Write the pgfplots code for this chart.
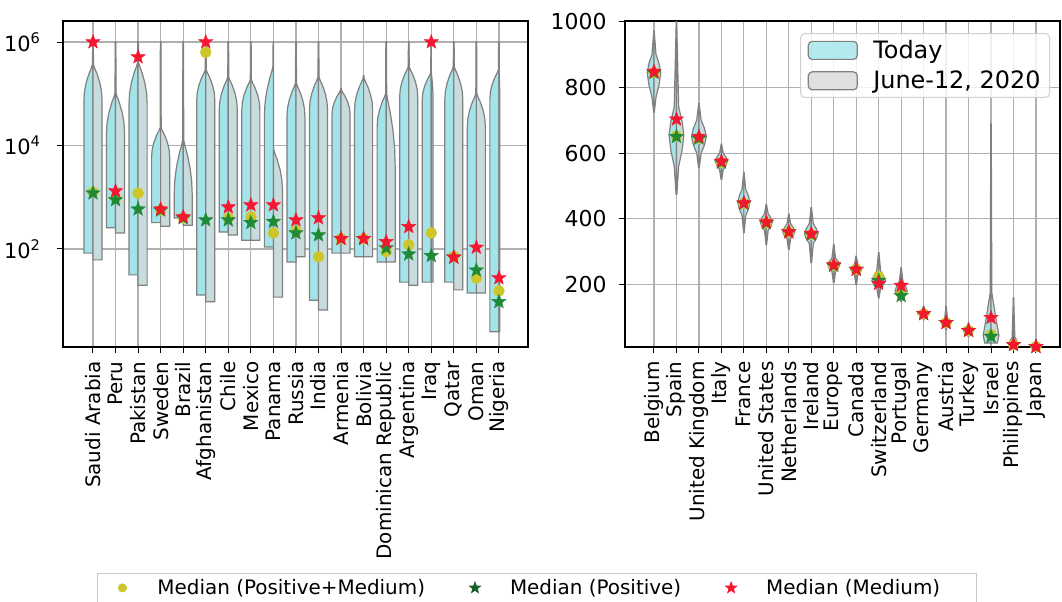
\documentclass[border=0pt]{standalone}
\usepackage{fontspec}
\setmainfont{DejaVu Sans}
\usepackage{pgfplots}
\pgfplotsset{compat=1.18}
\usetikzlibrary{plotmarks}

\definecolor{today}{HTML}{A2E4EA}
\definecolor{june}{HTML}{C9DCDD}
\definecolor{vedge}{HTML}{808080}
\definecolor{gridc}{HTML}{B0B0B0}
\definecolor{cred}{HTML}{F5162F}
\definecolor{cgreen}{HTML}{1F8A35}
\definecolor{cyel}{HTML}{CDC62A}

\pgfdeclareplotmark{fstar}{%
 \pgfpathmoveto{\pgfpointpolar{90}{\pgfplotmarksize}}%
 \pgfpathlineto{\pgfpointpolar{126}{0.42\pgfplotmarksize}}%
 \pgfpathlineto{\pgfpointpolar{162}{\pgfplotmarksize}}%
 \pgfpathlineto{\pgfpointpolar{198}{0.42\pgfplotmarksize}}%
 \pgfpathlineto{\pgfpointpolar{234}{\pgfplotmarksize}}%
 \pgfpathlineto{\pgfpointpolar{270}{0.42\pgfplotmarksize}}%
 \pgfpathlineto{\pgfpointpolar{306}{\pgfplotmarksize}}%
 \pgfpathlineto{\pgfpointpolar{342}{0.42\pgfplotmarksize}}%
 \pgfpathlineto{\pgfpointpolar{18}{\pgfplotmarksize}}%
 \pgfpathlineto{\pgfpointpolar{54}{0.42\pgfplotmarksize}}%
 \pgfpathclose\pgfusepathqfillstroke}

\pgfplotsset{
 todayst/.style={fill=today, draw=vedge, line width=1.2bp, forget plot},
 junest/.style={fill=june, draw=vedge, line width=1.2bp, forget plot},
}

% left-panel half violin: pos, side, min, shoulder, neck, top, halfwidth, style (y in log10 units)
\newcommand\lv[8]{%
 \pgfmathsetmacro\xa{#1+#2*#7}%
 \pgfmathsetmacro\xb{#1+#2*0.94*#7}%
 \pgfmathsetmacro\xc{#1+#2*0.75*#7}%
 \pgfmathsetmacro\xd{#1+#2*0.44*#7}%
 \pgfmathsetmacro\xe{#1+#2*0.19*#7}%
 \pgfmathsetmacro\xf{#1+#2*0.06*#7}%
 \pgfmathsetmacro\xg{#1+#2*0.03*#7}%
 \pgfmathsetmacro\ya{#4+0.25*(#5-#4)}%
 \pgfmathsetmacro\yb{#4+0.5*(#5-#4)}%
 \pgfmathsetmacro\yc{#4+0.75*(#5-#4)}%
 \pgfmathsetmacro\yd{#4+0.9*(#5-#4)}%
 \addplot[#8] coordinates {(#1,#3) (\xa,#3) (\xa,#4) (\xb,\ya) (\xc,\yb) (\xd,\yc) (\xe,\yd) (\xf,#5) (\xg,#6) (#1,#6)} --cycle;
}
% right-panel half violin: pos, side, bottom, lowneck, widest, highneck, top, halfwidth, style
\newcommand\rv[9]{%
 \pgfmathsetmacro\xa{#1+#2*0.05*#8}%
 \pgfmathsetmacro\xb{#1+#2*0.3*#8}%
 \pgfmathsetmacro\xc{#1+#2*0.75*#8}%
 \pgfmathsetmacro\xd{#1+#2*#8}%
 \pgfmathsetmacro\xe{#1+#2*0.03*#8}%
 \pgfmathsetmacro\ya{(#4+#5)/2}%
 \pgfmathsetmacro\yb{(#5+#6)/2}%
 \addplot[#9] coordinates {(#1,#3) (\xa,#3) (\xb,#4) (\xc,\ya) (\xd,#5) (\xc,\yb) (\xb,#6) (\xe,#7) (#1,#7)} --cycle;
}

\begin{document}
\begin{tikzpicture}
\useasboundingbox (0,0) rectangle (1062bp,602bp);

\begin{axis}[
 at={(63bp,255bp)}, anchor=south west, scale only axis,
 width=465bp, height=326bp,
 xmin=-1.33, xmax=19.29, ymin=0.106, ymax=6.406,
 xtick={0,...,18},
 xticklabels={Saudi Arabia,Peru,Pakistan,Sweden,Brazil,Afghanistan,Chile,Mexico,Panama,Russia,India,Armenia,Bolivia,Dominican Republic,Argentina,Iraq,Qatar,Oman,Nigeria},
 ytick={2,4,6},
 yticklabels={10\textsuperscript{2},10\textsuperscript{4},10\textsuperscript{6}},
 xtick pos=lower, ytick pos=left,
 grid=major, major grid style={gridc, line width=1.2bp},
 axis line style={black, line width=1.2bp},
 tick style={black, line width=1bp}, tick align=outside, major tick length=6bp,
 xticklabel shift=5bp, yticklabel shift=13bp,
 xticklabel style={rotate=90, anchor=east, font=\fontsize{20}{20}\selectfont},
 yticklabel style={font=\fontsize{21}{21}\selectfont},
 legend columns=3,
 legend image code/.code={\path[draw=none,fill=none] (-15bp,0bp) -- (33bp,0bp); \draw[#1] plot coordinates {(0bp,0bp)};},
 legend style={at={(1.019,-0.739)}, anchor=center, draw=gridc!70, line width=1bp,
   font=\fontsize{20}{20}\selectfont, inner xsep=10bp, inner ysep=4bp,
   nodes={inner sep=2bp},
   /tikz/every even column/.append style={column sep=33bp}},
]
\lv{0}{-1}{1.92}{4.88}{5.56}{6.0}{0.4}{todayst}
\lv{0}{1}{1.79}{4.88}{5.56}{6.0}{0.4}{junest}
\lv{1}{-1}{2.41}{4.24}{5.01}{6.0}{0.4}{todayst}
\lv{1}{1}{2.31}{4.24}{5.01}{6.0}{0.4}{junest}
\lv{2}{-1}{1.50}{4.82}{5.60}{6.0}{0.4}{todayst}
\lv{2}{1}{1.30}{4.82}{5.60}{6.0}{0.4}{junest}
\lv{3}{-1}{2.51}{3.78}{4.34}{6.0}{0.4}{todayst}
\lv{3}{1}{2.44}{3.78}{4.34}{6.0}{0.4}{junest}
\lv{4}{-1}{2.60}{3.05}{4.10}{6.0}{0.4}{todayst}
\lv{4}{1}{2.46}{3.05}{4.10}{6.0}{0.4}{junest}
\lv{5}{-1}{1.11}{4.88}{5.46}{6.0}{0.4}{todayst}
\lv{5}{1}{0.98}{4.88}{5.46}{6.0}{0.4}{junest}
\lv{6}{-1}{2.33}{4.69}{5.32}{6.0}{0.4}{todayst}
\lv{6}{1}{2.27}{4.69}{5.32}{6.0}{0.4}{junest}
\lv{7}{-1}{2.17}{4.69}{5.27}{6.0}{0.4}{todayst}
\lv{7}{1}{2.17}{4.69}{5.27}{6.0}{0.4}{junest}
\lv{8}{-1}{2.04}{4.55}{5.52}{6.0}{0.4}{todayst}
\lv{8}{1}{1.07}{3.14}{3.91}{3.91}{0.4}{junest}
\lv{9}{-1}{1.75}{4.55}{5.20}{6.0}{0.4}{todayst}
\lv{9}{1}{1.85}{4.55}{5.20}{6.0}{0.4}{junest}
\lv{10}{-1}{1.01}{4.69}{5.32}{6.0}{0.4}{todayst}
\lv{10}{1}{0.82}{4.69}{5.32}{6.0}{0.4}{junest}
\lv{11}{-1}{1.92}{4.60}{5.07}{5.10}{0.4}{todayst}
\lv{11}{1}{1.92}{4.60}{5.07}{5.10}{0.4}{junest}
\lv{12}{-1}{1.85}{4.69}{5.30}{5.35}{0.4}{todayst}
\lv{12}{1}{1.85}{4.69}{5.30}{5.35}{0.4}{junest}
\lv{13}{-1}{1.75}{4.36}{5.00}{6.0}{0.4}{todayst}
\lv{13}{1}{1.75}{3.60}{5.00}{6.0}{0.4}{junest}
\lv{14}{-1}{1.36}{4.94}{5.52}{6.0}{0.4}{todayst}
\lv{14}{1}{1.30}{4.94}{5.52}{6.0}{0.4}{junest}
\lv{15}{-1}{1.36}{4.88}{5.40}{6.0}{0.4}{todayst}
\lv{15}{1}{1.36}{4.88}{5.40}{6.0}{0.08}{junest}
\lv{16}{-1}{1.36}{4.88}{5.52}{6.0}{0.4}{todayst}
\lv{16}{1}{1.21}{4.88}{5.52}{6.0}{0.4}{junest}
\lv{17}{-1}{1.15}{4.36}{5.00}{6.0}{0.4}{todayst}
\lv{17}{1}{1.15}{4.36}{5.00}{6.0}{0.4}{junest}
\lv{18}{-1}{0.40}{4.90}{5.46}{6.0}{0.4}{todayst}
\lv{18}{1}{0.40}{4.90}{5.46}{6.0}{0.04}{junest}

\addplot[only marks, mark=*, mark size=5.5bp, cyel, forget plot] coordinates {
(0,3.10) (1,2.98) (2,3.08) (3,2.75) (4,2.60) (5,5.80) (6,2.60) (7,2.62) (8,2.31) (9,2.35)
(10,1.85) (11,2.20) (12,2.20) (13,1.95) (14,2.08) (15,2.31) (16,1.86) (17,1.44) (18,1.19)};
\addplot[only marks, mark=fstar, mark size=7.5bp, cgreen, forget plot] coordinates {
(0,3.08) (1,2.95) (2,2.77) (3,2.75) (4,2.60) (5,2.56) (6,2.56) (7,2.51) (8,2.53) (9,2.31)
(10,2.27) (11,2.20) (12,2.20) (13,2.02) (14,1.90) (15,1.87) (16,1.84) (17,1.59) (18,0.98)};
\addplot[only marks, mark=fstar, mark size=7.5bp, cred, forget plot] coordinates {
(0,6.00) (1,3.12) (2,5.71) (3,2.77) (4,2.62) (5,6.00) (6,2.81) (7,2.85) (8,2.85) (9,2.56)
(10,2.60) (11,2.20) (12,2.20) (13,2.14) (14,2.43) (15,6.00) (16,1.84) (17,2.03) (18,1.44)};

\addlegendimage{only marks, mark=*, mark size=4bp, cyel}
\addlegendentry{Median (Positive+Medium)}
\addlegendimage{only marks, mark=fstar, mark size=5.5bp, cgreen!70!black}
\addlegendentry{Median (Positive)}
\addlegendimage{only marks, mark=fstar, mark size=5.5bp, cred}
\addlegendentry{Median (Medium)\hspace*{24bp}}
\end{axis}

\begin{axis}[
 at={(625bp,255bp)}, anchor=south west, scale only axis,
 width=435bp, height=326bp,
 xmin=-1.29, xmax=18.07, ymin=10, ymax=1002,
 xtick={0,...,17},
 xticklabels={Belgium,Spain,United Kingdom,Italy,France,United States,Netherlands,Ireland,Europe,Canada,Switzerland,Portugal,Germany,Austria,Turkey,Israel,Philippines,Japan},
 ytick={200,400,600,800,1000},
 /pgf/number format/assume math mode=true,
 /pgf/number format/1000 sep={},
 xtick pos=lower, ytick pos=left,
 grid=major, major grid style={gridc, line width=1.2bp},
 axis line style={black, line width=1.2bp},
 tick style={black, line width=1bp}, tick align=outside, major tick length=6bp,
 xticklabel shift=5bp, yticklabel shift=9bp,
 xticklabel style={rotate=90, anchor=east, font=\fontsize{20}{20}\selectfont},
 yticklabel style={font=\fontsize{22}{22}\selectfont},
 legend cell align=left,
 legend image code/.code={\path[draw=none,fill=none] (0bp,0bp) -- (63bp,0bp); \draw[#1] (0bp,-9bp) rectangle (49bp,9bp);},
 legend style={at={(0.977,0.963)}, anchor=north east, draw=gridc!60, line width=1bp,
   fill=white, fill opacity=0.8, text opacity=1, rounded corners=4bp,
   font=\fontsize{24}{24}\selectfont, inner xsep=7bp, inner ysep=5bp,
   nodes={inner sep=2bp}, row sep=7bp},
]
\rv{0}{-1}{725}{770}{845}{900}{972}{0.30}{todayst}
\rv{0}{1}{725}{770}{845}{900}{972}{0.30}{junest}
\rv{1}{-1}{475}{560}{655}{740}{1000}{0.33}{todayst}
\rv{1}{1}{475}{560}{655}{740}{1000}{0.33}{junest}
\rv{2}{-1}{556}{600}{650}{700}{750}{0.33}{todayst}
\rv{2}{1}{556}{600}{650}{700}{750}{0.33}{junest}
\rv{3}{-1}{520}{550}{575}{600}{627}{0.27}{todayst}
\rv{3}{1}{520}{550}{575}{600}{627}{0.27}{junest}
\rv{4}{-1}{358}{410}{450}{490}{541}{0.27}{todayst}
\rv{4}{1}{358}{410}{450}{490}{541}{0.27}{junest}
\rv{5}{-1}{322}{365}{390}{415}{444}{0.27}{todayst}
\rv{5}{1}{322}{365}{390}{415}{444}{0.27}{junest}
\rv{6}{-1}{307}{340}{360}{385}{414}{0.27}{todayst}
\rv{6}{1}{307}{340}{360}{385}{414}{0.27}{junest}
\rv{7}{-1}{267}{325}{355}{385}{434}{0.30}{todayst}
\rv{7}{1}{267}{325}{355}{385}{434}{0.30}{junest}
\rv{8}{-1}{206}{240}{260}{280}{322}{0.27}{todayst}
\rv{8}{1}{206}{240}{260}{280}{322}{0.27}{junest}
\rv{9}{-1}{200}{230}{246}{262}{286}{0.25}{todayst}
\rv{9}{1}{200}{230}{246}{262}{286}{0.25}{junest}
\rv{10}{-1}{160}{190}{212}{240}{297}{0.30}{todayst}
\rv{10}{1}{160}{190}{212}{240}{297}{0.30}{junest}
\rv{11}{-1}{148}{165}{180}{210}{251}{0.27}{todayst}
\rv{11}{1}{148}{165}{180}{210}{251}{0.27}{junest}
\rv{12}{-1}{93}{103}{111}{120}{133}{0.25}{todayst}
\rv{12}{1}{93}{103}{111}{120}{133}{0.25}{junest}
\rv{13}{-1}{63}{75}{84}{95}{133}{0.22}{todayst}
\rv{13}{1}{63}{75}{84}{95}{133}{0.22}{junest}
\rv{14}{-1}{42}{52}{60}{68}{84}{0.22}{todayst}
\rv{14}{1}{42}{52}{60}{68}{84}{0.22}{junest}
\addplot[todayst] coordinates {(15,22) (14.72,22) (14.65,45) (14.79,100) (14.965,175) (14.99,688) (15,688)} --cycle;
\addplot[junest] coordinates {(15,22) (15.28,22) (15.35,45) (15.21,100) (15.035,175) (15.01,688) (15,688)} --cycle;
\rv{16}{-1}{10}{13}{17}{40}{160}{0.20}{todayst}
\rv{16}{1}{10}{13}{17}{40}{160}{0.20}{junest}
\rv{17}{-1}{10}{11}{12}{18}{32}{0.18}{todayst}
\rv{17}{1}{10}{11}{12}{18}{32}{0.18}{junest}

\addplot[only marks, mark=*, mark size=5.5bp, cyel, forget plot] coordinates {
(0,845) (1,652) (2,645) (3,572) (4,447) (5,388) (6,360) (7,353) (8,258) (9,246)
(10,224) (11,174) (12,111) (13,84) (14,60) (15,48) (16,17) (17,11)};
\addplot[only marks, mark=fstar, mark size=7.5bp, cgreen, forget plot] coordinates {
(0,845) (1,650) (2,645) (3,572) (4,447) (5,388) (6,360) (7,353) (8,258) (9,246)
(10,212) (11,166) (12,111) (13,84) (14,60) (15,42) (16,17) (17,11)};
\addplot[only marks, mark=fstar, mark size=7.5bp, cred, forget plot] coordinates {
(0,848) (1,703) (2,650) (3,575) (4,448) (5,390) (6,360) (7,355) (8,260) (9,246)
(10,203) (11,197) (12,111) (13,84) (14,60) (15,99) (16,17) (17,11)};

\addlegendimage{fill=today, draw=vedge, line width=1.2bp}
\addlegendentry{Today}
\addlegendimage{fill=gray!30, draw=vedge, line width=1.2bp}
\addlegendentry{June-12, 2020}
\end{axis}
\end{tikzpicture}
\end{document}
